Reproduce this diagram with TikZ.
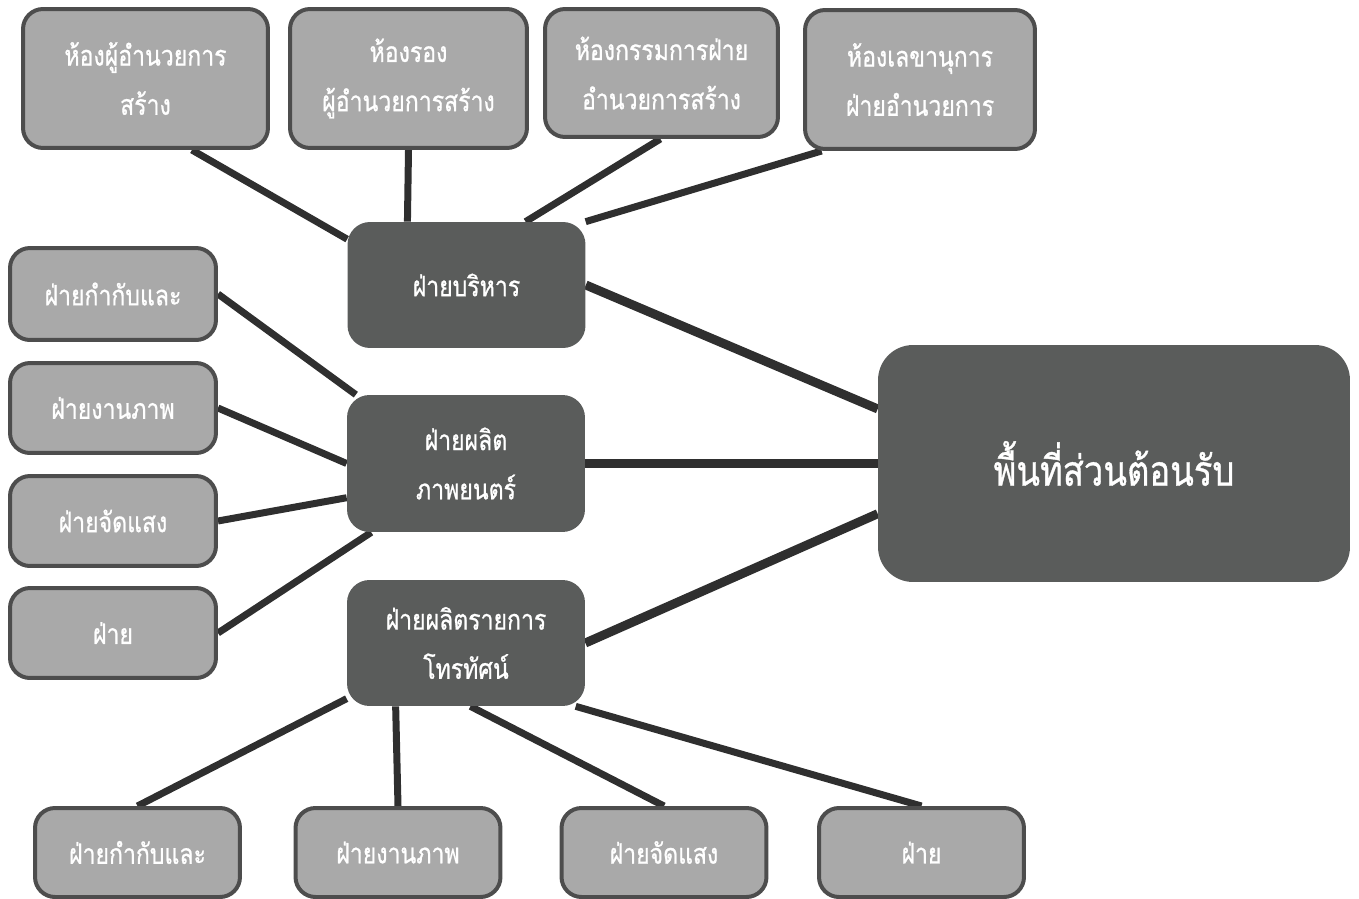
\documentclass[tikz,border=0pt]{standalone}
\usepackage{fontspec}
\newfontfamily\thaifont[Script=Thai,FakeStretch=0.82,FakeBold=0.8]{Loma}
\usetikzlibrary{backgrounds}
\definecolor{boxlight}{HTML}{A9A9A9}
\definecolor{boxedge}{HTML}{4D4D4D}
\definecolor{boxdark}{HTML}{5A5C5B}
\definecolor{linkc}{HTML}{2F2F2F}
\begin{document}
\begin{tikzpicture}[x=0.02cm,y=-0.02cm, line join=round, line cap=round,
	room/.style={draw=boxedge,line width=0.08cm,fill=boxlight,rounded corners=0.4cm,
		text=white,align=center,inner sep=0pt,font=\thaifont\fontsize{16}{28}\selectfont},
	unit/.style={fill=boxdark,rounded corners=0.45cm,text=white,align=center,inner sep=0pt,
		minimum width=4.76cm,font=\thaifont\fontsize{16}{28}\selectfont},
	side/.style={room,minimum width=4.12cm,minimum height=1.8cm},
	foot/.style={room,minimum width=4.1cm,minimum height=1.78cm},
	link/.style={draw=linkc,line width=0.14cm},
	mainlink/.style={link,line width=0.18cm}]
	\useasboundingbox (0,0) rectangle (1359,899);
	
	% ห้องชั้นบน
	\node[room,minimum width=4.9cm,minimum height=2.78cm] (t1) at (145.5,78.5) {ห้องผู้อำนวยการ\\สร้าง};
	\node[room,minimum width=4.74cm,minimum height=2.78cm] (t2) at (408.5,78.5) {ห้องรอง\\ผู้อำนวยการสร้าง};
	\node[room,minimum width=4.66cm,minimum height=2.56cm] (t3) at (661.5,73) {ห้องกรรมการฝ่าย\\อำนวยการสร้าง};
	\node[room,minimum width=4.6cm,minimum height=2.78cm] (t4) at (920,79.5) {ห้องเลขานุการ\\ฝ่ายอำนวยการ};
	
	% ฝ่ายหลัก
	\node[unit,minimum height=2.52cm] (adm) at (466.5,285) {ฝ่ายบริหาร};
	\node[unit,minimum height=2.74cm] (prod) at (466,463.5) {ฝ่ายผลิต\\ภาพยนตร์};
	\node[unit,minimum height=2.52cm] (tv) at (466,643) {ฝ่ายผลิตรายการ\\โทรทัศน์};
	\node[unit,minimum width=9.44cm,minimum height=4.74cm,rounded corners=0.7cm,
		font=\thaifont\fontsize{24}{30}\selectfont] (big) at (1114,463.5) {พื้นที่ส่วนต้อนรับ};
	
	% ซ้าย
	\node[side,minimum height=1.84cm] (l1) at (113,294) {ฝ่ายกำกับและ};
	\node[side] (l2) at (113,408) {ฝ่ายงานภาพ};
	\node[side] (l3) at (113,521) {ฝ่ายจัดแสง};
	\node[side] (l4) at (113,633) {ฝ่าย};
	
	% ล่าง
	\node[foot] (b1) at (137.5,852.5) {ฝ่ายกำกับและ};
	\node[foot] (b2) at (398,852.5) {ฝ่ายงานภาพ};
	\node[foot] (b3) at (664,852.5) {ฝ่ายจัดแสง};
	\node[foot] (b4) at (921.5,852.5) {ฝ่าย};
	
	\begin{scope}[on background layer]
		\draw[link] (t1.-57) -- (adm.159);
		\draw[link] (t2.south) -- (adm.133);
		\draw[link] (t3.-91) -- (adm.47);
		\draw[link] (t4.-144) -- (adm.28);
		\draw[mainlink] (adm.east) -- (big.167);
		\draw[mainlink] (prod.east) -- (big.west);
		\draw[mainlink] (tv.east) -- (big.-168);
		\draw[link] (l1.east) -- (prod.148);
		\draw[link] (l2.east) -- (prod.west);
		\draw[link] (l3.east) -- (prod.196);
		\draw[link] (l4.east) -- (prod.-144);
		\foreach \a/\b in {-155/b1,-138/b2,-86/b3,-30/b4}
			\draw[link] (tv.\a) -- (\b.north);
	\end{scope}
\end{tikzpicture}
\end{document}
